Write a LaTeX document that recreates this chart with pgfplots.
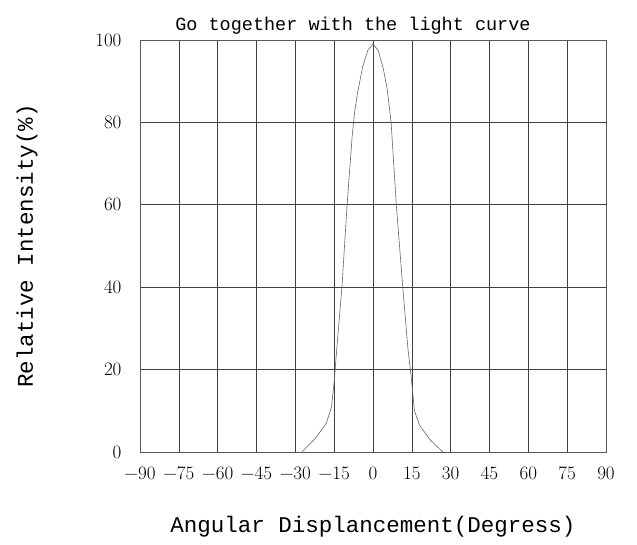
\documentclass[border=0pt]{standalone}
\usepackage{fontspec}
\setmainfont{Liberation Mono}
\newfontfamily\lmfamily{Latin Modern Roman}
\usepackage{pgfplots}
\pgfplotsset{compat=1.18}

\begin{document}
\begin{tikzpicture}
\useasboundingbox (-140pt,-93pt) rectangle (497pt,452pt);
\begin{axis}[
    at={(0,0)}, anchor=south west,
    scale only axis,
    width=466pt, height=412pt,
    xmin=-90, xmax=90,
    ymin=0, ymax=100,
    xtick={-90,-75,...,90},
    xticklabels={−90,−75,−60,−45,−30,−15,0,15,30,45,60,75,90},
    ytick={0,20,...,100},
    yticklabels={0,20,40,60,80,100},
    grid=major,
    grid style={black!75, line width=0.6pt},
    axis line style={black!65, line width=0.6pt},
    major tick length=0pt,
    tick label style={font=\lmfamily\fontsize{19}{22}\selectfont},
    xticklabel style={yshift=-11pt},
    yticklabel style={xshift=-15pt},
    title={Go together with the light curve},
    title style={font=\fontsize{18.5}{22}\selectfont, at={(0.457,1)}, yshift=-4pt},
    xlabel={Angular Displancement(Degress)},
    xlabel style={font=\fontsize{22.5}{26}\selectfont, yshift=-30pt},
    ylabel={Relative Intensity(\%)},
    ylabel style={font=\fontsize{22.5}{26}\selectfont, yshift=51pt},
]
\addplot[black!60, line width=0.6pt] coordinates {
    (-27.5,0) (-22,3.5) (-18,7) (-16,11) (-15,17) (-14,25) (-12,40)
    (-10,60) (-8,77) (-7,83) (-6,87) (-4,93.5) (-2,97.5) (0,99)
    (2,97.5) (4,93) (5.5,88) (7,80) (9,60) (11.5,40) (13.5,25)
    (14.8,18) (16,10) (18,6.5) (22,3) (27,0)
};
\end{axis}
\end{tikzpicture}
\end{document}
